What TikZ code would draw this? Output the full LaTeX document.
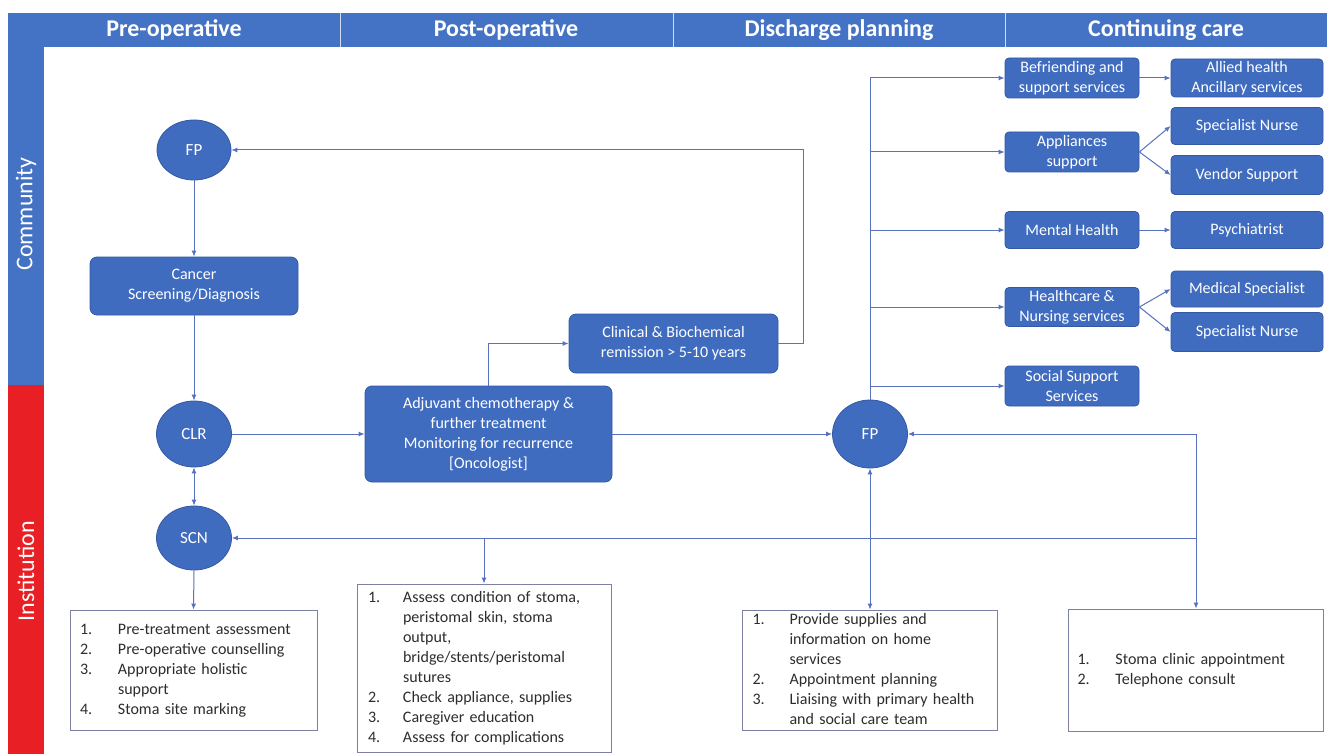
\documentclass[tikz,border=0pt]{standalone}
\usepackage{fontspec}
\setmainfont{Carlito}
\usetikzlibrary{arrows.meta,shapes.geometric}
\definecolor{nodeblue}{RGB}{64,108,192}
\definecolor{nodeedge}{RGB}{52,88,165}
\definecolor{hdrblue}{RGB}{68,114,196}
\definecolor{stripred}{RGB}{232,32,38}
\definecolor{linecol}{RGB}{88,114,190}
\definecolor{boxedge}{RGB}{125,128,160}
\definecolor{listtext}{RGB}{45,45,45}
\begin{document}
\begin{tikzpicture}[x=1pt,y=-1pt,
 blk/.style={draw=nodeedge, line width=0.8pt, fill=nodeblue, rounded corners=7pt, text=white, align=center, font=\fontsize{16}{20}\selectfont, inner sep=0pt},
 sblk/.style={blk, rounded corners=4pt},
 circ/.style={ellipse, draw=nodeedge, line width=0.8pt, fill=nodeblue, text=white, font=\fontsize{17}{20}\selectfont, inner sep=0pt},
 lst/.style={draw=boxedge, line width=0.8pt, fill=white, text=listtext, align=left, font=\fontsize{16}{20}\selectfont, inner ysep=0pt},
 arr/.style={draw=linecol, line width=1pt, -{Latex[length=6pt,width=5pt]}},
 dbl/.style={draw=linecol, line width=1pt, {Latex[length=6pt,width=5pt]}-{Latex[length=6pt,width=5pt]}},
 hdr/.style={text=white, font=\fontsize{24}{28}\selectfont\bfseries},
 side/.style={text=white, rotate=90, font=\fontsize{24}{28}\selectfont}
]
\useasboundingbox (0,0) rectangle (1327,754);
\fill[white] (0,0) rectangle (1327,754);
% header bar and side strip
\fill[hdrblue] (8,13) rectangle (1327,47);
\foreach \xx in {340,673,1005} \draw[white!75!hdrblue, line width=1pt] (\xx,13) -- (\xx,47);
\fill[hdrblue] (8,47) rectangle (44,385);
\fill[stripred] (8,385) rectangle (44,754);
\node[hdr] (h1) at (174,30) {Pre-operative};
\node[hdr] (h2) at (506,30) {Post-operative};
\node[hdr] (h3) at (839,30) {Discharge planning};
\node[hdr] (h4) at (1166,30) {Continuing care};
\node[side] (community) at (26,214) {Community};
\node[side] (institution) at (26,571) {Institution};

% main nodes
\node[circ, minimum width=74pt, minimum height=60pt] (fp1) at (194,150) {FP};
\node[blk, minimum width=208pt, minimum height=58pt] (cancer) at (194,286) {Cancer\\Screening/Diagnosis};
\node[circ, minimum width=75pt, minimum height=66pt] (clr) at (194,434) {CLR};
\node[circ, minimum width=75pt, minimum height=64pt] (scn) at (194,538) {SCN};
\node[blk, minimum width=247pt, minimum height=96pt] (adj) at (488.5,434) {Adjuvant chemotherapy \&\\further treatment\\Monitoring for recurrence\\{[Oncologist]}};
\node[blk, minimum width=209pt, minimum height=59pt] (clin) at (673.5,343.5) {Clinical \& Biochemical\\remission > 5-10 years};
\node[circ, minimum width=75pt, minimum height=68pt] (fp2) at (870,434) {FP};

% continuing-care services
\node[sblk, minimum width=134pt, minimum height=40pt] (bef) at (1072,78) {Befriending and\\support services};
\node[sblk, minimum width=152pt, minimum height=38pt] (allied) at (1247,78) {Allied health\\Ancillary services};
\node[sblk, minimum width=134pt, minimum height=40pt] (appl) at (1072,152) {Appliances\\support};
\node[sblk, minimum width=152pt, minimum height=37pt] (spn1) at (1247,126) {Specialist Nurse};
\node[sblk, minimum width=152pt, minimum height=39pt] (vend) at (1247,175) {Vendor Support};
\node[sblk, minimum width=134pt, minimum height=37pt] (mental) at (1072,230) {Mental Health};
\node[sblk, minimum width=152pt, minimum height=37pt] (psych) at (1247,230) {Psychiatrist};
\node[sblk, minimum width=134pt, minimum height=39pt] (health) at (1072,307) {Healthcare \&\\Nursing services};
\node[sblk, minimum width=152pt, minimum height=36pt] (med) at (1247,289) {Medical Specialist};
\node[sblk, minimum width=152pt, minimum height=39pt] (spn2) at (1247,332) {Specialist Nurse};
\node[sblk, minimum width=134pt, minimum height=40pt] (social) at (1072,386) {Social Support\\Services};

% list boxes
\node[lst, text width=227pt, inner xsep=10pt, minimum height=120pt] (pre) at (193.5,670) {%
\begin{tabular}{@{}p{38pt}@{}l@{}}
1. & Pre-treatment assessment\\
2. & Pre-operative counselling\\
3. & Appropriate holistic\\
   & support\\
4. & Stoma site marking
\end{tabular}};
\node[lst, text width=232pt, inner xsep=11pt, minimum height=168pt] (post) at (484,668) {%
\begin{tabular}{@{}p{35pt}@{}l@{}}
1. & Assess condition of stoma,\\
   & peristomal skin, stoma\\
   & output,\\
   & bridge/stents/peristomal\\
   & sutures\\
2. & Check appliance, supplies\\
3. & Caregiver education\\
4. & Assess for complications
\end{tabular}};
\node[lst, text width=235pt, inner xsep=10pt, minimum height=120pt] (dis) at (870,670) {%
\begin{tabular}{@{}p{37pt}@{}l@{}}
1. & Provide supplies and\\
   & information on home\\
   & services\\
2. & Appointment planning\\
3. & Liaising with primary health\\
   & and social care team
\end{tabular}};
\node[lst, text width=237pt, inner xsep=9pt, minimum height=122pt] (cont) at (1196,670) {%
\begin{tabular}{@{}p{38pt}@{}l@{}}
1. & Stoma clinic appointment\\
2. & Telephone consult
\end{tabular}};

% connectors
\draw[arr] (fp1.south) -- (cancer.north);
\draw[arr] (cancer.south) -- (clr.north);
\draw[dbl] (clr.south) -- (scn.north);
\draw[arr] (scn.south) -- (pre.north);
\draw[arr] (clr.east) -- (adj.west);
\draw[arr] (adj.north) |- (clin.west);
\draw[arr] (clin.east) -- ++(25,0) |- (fp1.east);
\draw[arr] (adj.east) -- (fp2.west);

\draw[arr] (fp2.north) |- (bef.west);
\draw[arr] (fp2.north) |- (appl.west);
\draw[arr] (fp2.north) |- (mental.west);
\draw[arr] (fp2.north) |- (health.west);
\draw[arr] (fp2.north) |- (social.west);
\draw[arr] (bef.east) -- (allied.west);
\draw[arr] (appl.east) -- (spn1.west);
\draw[arr] (appl.east) -- (vend.west);
\draw[arr] (mental.east) -- (psych.west);
\draw[arr] (health.east) -- (med.west);
\draw[arr] (health.east) -- (spn2.west);

\coordinate (jr) at (1196,434);
\coordinate (jb) at (1196,538);
\coordinate (jp) at (484,538);
\draw[arr] (jr) -- (fp2.east);
\draw[arr] (jr) -- (cont.north);
\draw[arr] (jb) -- (scn.east);
\draw[arr] (jp) -- (post.north);
\draw[dbl] (fp2.south) -- (dis.north);
\end{tikzpicture}
\end{document}
